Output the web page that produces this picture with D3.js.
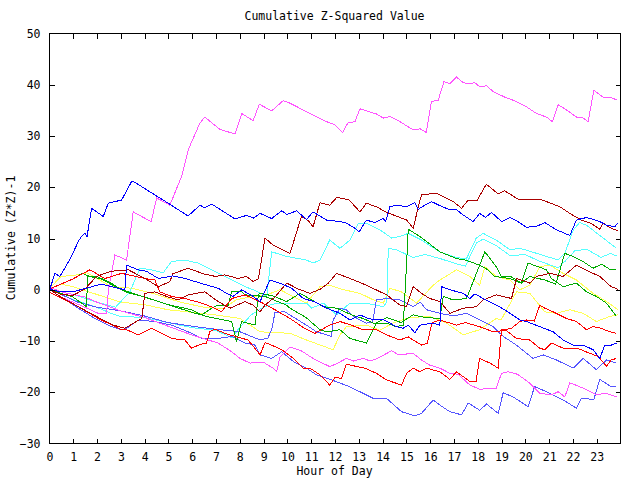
<!DOCTYPE html>
<html><head><meta charset="utf-8">
<script src="https://cdn.jsdelivr.net/npm/d3@7"></script>
<style>
body{margin:0;background:#fff;}
text{font-family:"DejaVu Sans Mono",monospace;font-size:11.5px;fill:#000;}
</style></head><body>
<svg id="c" width="640" height="480"></svg>
<script>
const title = "Cumulative Z-Squared Value";
const xLabel = "Hour of Day";
const yLabel = "Cumulative (Z*Z)-1";
const xTicks = d3.range(0, 24);
const yTicks = [-30, -20, -10, 0, 10, 20, 30, 40, 50];

// each series: [hour, cumulative value] vertices
const magentaA = [[0,0],[0.5,-1.5],[1,-2.5],[1.5,-3.5],[2.07,-4.7],[2.42,-4.7],[2.5,0],[2.77,6.7],[3.26,5.7],[3.54,15.1],[4.29,13.2],[4.53,17.8],[5.08,16.4],[5.57,22.0],[5.85,27.2],[6.34,32.4],[6.55,33.6],[7.18,31.2],[7.82,30.3],[8.10,34.3],[8.58,32.9],[8.84,36.1],[9.36,34.8],[9.84,36.8],[10.13,36.3],[10.97,34.3],[11.67,32.7],[12.02,32.1],[12.34,30.6],[12.57,32.5],[12.86,32.7],[13.07,35.2],[13.76,34.2],[14.05,33.4],[14.33,33.7],[14.75,32.7],[15.31,31.1],[15.6,31.3],[15.86,30.6],[16.07,36.6],[16.36,36.9],[16.6,40.5],[16.85,40.1],[17.13,41.4],[17.41,40.3],[17.62,40.1],[17.9,40.3],[18.1,39.5],[18.39,39.7],[18.66,38.6],[19.15,37.5],[19.5,36.9],[20.07,35.6],[20.49,34.3],[20.91,33.6],[21.16,32.7],[21.4,36.0],[21.75,35.0],[22.17,33.6],[22.4,33.6],[22.66,32.7],[22.9,38.8],[23.29,37.5],[23.57,37.5],[23.88,36.9]];
const blueA = [[0,-0.5],[0.25,3.1],[0.46,2.5],[0.9,6],[1.25,9.5],[1.37,10.3],[1.51,10.9],[1.6,10.3],[1.79,15.8],[2.28,14.2],[2.49,16.8],[3.05,17.4],[3.47,21.0],[3.6,20.9],[4.45,18.4],[5.01,16.8],[5.57,15.1],[5.85,14.3],[6.34,16.4],[6.55,15.9],[6.84,16.6],[7.39,15.0],[7.82,13.7],[8.29,14.4],[8.6,13.9],[8.87,14.8],[9.36,13.8],[9.78,15.3],[10.0,14.6],[10.41,15.3],[10.82,13.6],[11.1,15.1],[11.67,13.5],[12.23,13.2],[12.5,12.9],[12.86,11.9],[13.04,11.2],[13.34,13.5],[13.7,13.0],[14.05,13.8],[14.15,13.2],[14.33,16.1],[14.6,16.4],[15.03,16.1],[15.38,16.9],[15.52,15.6],[15.8,16.4],[16.08,17.1],[16.43,16.3],[16.85,15.5],[17.1,15.6],[17.41,14.5],[17.83,13.2],[18.1,14.8],[18.35,14.0],[18.6,15.0],[19.02,13.2],[19.37,14.0],[19.65,13.4],[20.07,12.1],[20.5,12.3],[20.84,13.0],[21.33,11.6],[21.89,10.5],[22.17,13.5],[22.59,14.0],[22.9,13.6],[23.15,13.2],[23.43,12.5],[23.78,12.2],[23.9,12.9]];
const darkRedA = [[0,0],[0.5,-1],[1,-1.2],[1.5,0],[2,2.5],[2.6,3.5],[3.33,3.8],[4.03,2.1],[4.6,0.5],[5.08,1.5],[5.2,3.0],[5.85,4.1],[6.5,3.0],[7.0,2.5],[7.39,2.8],[7.95,2.1],[8.3,2.5],[8.58,1.5],[8.8,2.0],[9.08,10.0],[9.42,8.6],[10.13,7.0],[10.61,14.2],[10.9,13.4],[11.1,12.2],[11.39,16.9],[11.8,16.4],[12.09,17.9],[12.6,17.5],[13.07,15.1],[13.34,16.8],[13.8,16.0],[14.19,15.0],[15.03,13.5],[15.31,11.9],[15.59,17.4],[15.66,18.4],[16.0,18.6],[16.36,18.6],[16.99,17.1],[17.34,15.8],[17.62,17.4],[18.0,17.4],[18.38,20.5],[18.88,18.6],[19.15,19.2],[19.71,17.6],[20.63,17.6],[21.19,16.6],[21.47,16.1],[21.89,14.8],[22.38,13.5],[22.8,12.8],[23.15,11.7],[23.29,12.9],[23.63,11.9],[23.92,11.4]];
const cyanA = [[0,0],[1,-1],[2,-2.5],[2.8,-3.5],[3.4,-0.5],[3.82,4.1],[4.3,3.8],[4.8,3.2],[5.0,4.5],[5.15,5.4],[5.71,5.7],[6.27,5.1],[6.84,3.8],[7.39,2.5],[8.24,0.5],[8.58,-0.1],[9.0,-1.0],[9.15,-1.4],[9.36,7.3],[9.99,6.4],[10.82,5.7],[11.1,5.1],[11.39,5.7],[11.8,9.6],[12.23,8.0],[12.65,9.6],[13.0,12.9],[13.34,12.9],[13.91,11.6],[14.4,10.0],[14.75,10.3],[15.1,10.9],[15.66,9.6],[16.08,8.3],[16.43,7.3],[17.13,6.2],[17.54,5.9],[17.96,10.0],[18.25,10.9],[18.8,9.6],[19.37,7.7],[19.79,8.0],[20.5,7.0],[21.4,5.7],[21.68,7.0],[22.03,11.5],[22.3,13.0],[22.59,12.5],[23.15,10.5],[23.85,8.0]];
const cyanB = [[0,0],[1,-2],[2,-3.5],[2.6,-4.7],[3,-5.3],[4,-5.5],[5,-6.5],[6,-7.5],[7,-8],[7.7,-9.5],[8.0,-7.5],[8.5,-5],[9.0,-3.5],[9.57,-2.7],[10.82,-2.7],[11.04,-3.7],[11.53,-2.7],[12.09,-5.0],[12.65,-2.7],[13.28,-2.7],[14.05,-3.4],[14.2,-2.5],[14.26,8.0],[14.6,7.7],[15.31,6.2],[15.8,6.8],[16.43,6.0],[17.1,5.0],[17.5,4.5],[17.96,9.0],[18.25,9.8],[18.8,8.5],[19.4,6.5],[20.0,6.8],[20.6,5.5],[21.4,4.2],[21.7,5.5],[22.1,7.5],[22.6,7.8],[23.2,6.2],[23.6,7.0],[23.85,6.5]];
const lightBlueA = [[0,0],[0.5,-1.5],[1.23,-3.7],[1.93,-5.7],[2.63,-7.3],[3.05,-7.9],[3.3,-7.5],[3.75,-6.0],[4.45,-6.3],[5.15,-7.0],[5.85,-8.3],[6.42,-9.6],[7.11,-9.6],[7.68,-9.2],[8.24,-10.5],[8.66,-10.9],[8.87,-12.8],[9.36,-13.5],[9.78,-12.2],[10.27,-14.1],[10.82,-15.4],[11.24,-16.7],[11.88,-17.7],[12.23,-18.3],[12.57,-18.9],[13.07,-20.0],[13.63,-21.3],[14.19,-21.3],[14.82,-23.9],[15.38,-24.7],[15.66,-24.2],[16.15,-21.6],[16.43,-22.6],[16.85,-23.9],[17.34,-24.5],[17.62,-22.2],[18.1,-23.6],[18.39,-22.4],[18.88,-24.2],[19.09,-20.2],[19.5,-21.0],[20.14,-22.9],[20.41,-19.0],[20.91,-20.0],[21.61,-21.6],[22.17,-23.2],[22.38,-21.3],[22.9,-21.5],[23.15,-17.6],[23.63,-19.0],[23.85,-19.0]];
const redA = [[0,-0.5],[0.11,-0.8],[1.23,-3.4],[2.07,-5.7],[3.05,-7.9],[3.26,-7.9],[3.75,-8.9],[4.31,-7.6],[4.73,-8.6],[5.15,-9.6],[5.71,-9.9],[5.99,-11.5],[6.34,-10.8],[6.62,-10.5],[6.76,-8.3],[6.97,-7.8],[7.39,-8.6],[7.82,-9.2],[8.37,-9.9],[8.87,-12.8],[9.08,-10.4],[9.3,-10.8],[9.78,-11.8],[10.27,-13.5],[10.69,-15.4],[10.97,-15.4],[11.39,-16.7],[11.8,-18.7],[12.02,-17.2],[12.29,-17.4],[12.5,-14.6],[12.86,-15.0],[13.28,-15.4],[13.76,-16.4],[14.19,-17.7],[14.82,-18.7],[15.03,-16.4],[15.31,-15.4],[15.59,-16.1],[15.87,-15.4],[16.43,-16.1],[16.85,-17.6],[17.13,-16.1],[17.69,-18.0],[17.95,-18.0],[18.1,-13.5],[18.53,-14.4],[18.88,-15.4],[19.02,-7.9],[19.15,-7.9],[19.44,-7.6],[19.79,-6.3],[20.07,-6.0],[20.4,-6.2],[20.63,-3.1],[20.84,-3.7],[21.19,-4.4],[21.75,-5.7],[22.17,-6.3],[22.59,-7.9],[22.87,-7.3],[23.2,-7.6],[23.57,-8.3],[23.85,-8.6]];
const redB = [[0,0],[0.5,1],[1,2],[1.72,3.8],[2.35,2.1],[3.05,3.1],[4.03,2.1],[4.45,1.8],[4.66,-0.5],[5.15,-1.4],[5.71,-1.8],[6.42,-2.7],[6.97,-3.7],[7.25,-4.4],[7.68,-1.8],[8.24,-1.1],[8.9,-2.5],[9.5,-4],[10.13,-5.7],[10.7,-7.5],[11.18,-8.6],[11.8,-7.0],[12.23,-6.3],[12.7,-7],[13.2,-7.9],[13.76,-7.9],[14.19,-8.9],[14.75,-9.9],[15.1,-9.3],[15.66,-10.9],[15.9,-10.5],[16.1,-6.5],[16.43,-6.0],[17.13,-7.0],[17.5,-6.5],[18.1,-7.3],[18.67,-8.3],[19.2,-8.0],[19.65,-9.6],[20.2,-9.9],[20.63,-11.5],[20.84,-11.8],[21.12,-10.5],[21.61,-11.5],[22.2,-11.5],[22.73,-12.5],[23.08,-13.1],[23.43,-15.0],[23.63,-13.8],[23.85,-13.5]];
const blueB = [[0,0],[0.5,-0.5],[1,-0.5],[1.8,0.5],[2.2,1.0],[2.8,0.3],[3.19,-0.1],[3.26,4.7],[3.75,3.8],[4.1,3.5],[4.6,2.1],[5.2,2.6],[5.71,2.1],[6.5,1.0],[7.11,0.2],[7.46,-0.8],[7.74,-1.4],[8.1,-0.1],[8.58,-1.4],[8.87,-2.4],[9.29,1.8],[9.8,1.0],[10.2,0.2],[10.69,-1.8],[11.2,-2.5],[11.67,-3.7],[12.23,-4.7],[12.65,-6.0],[13.07,-5.0],[13.42,-5.7],[13.76,-6.0],[14.05,-5.9],[14.6,-7.3],[14.89,-7.6],[15.1,-7.0],[15.38,-8.5],[15.59,-7.0],[16.15,-6.6],[16.43,-7.0],[16.5,0.5],[16.85,-0.1],[17.41,-0.8],[17.69,-1.8],[17.9,-0.9],[18.25,-1.8],[18.8,-3.1],[19.15,-4.0],[19.79,-6.0],[20.07,-6.3],[20.63,-7.3],[21.19,-8.3],[21.61,-9.9],[22.03,-10.9],[22.5,-11.0],[22.87,-11.8],[23.15,-13.5],[23.36,-10.9],[23.63,-10.9],[23.85,-10.5]];
const magentaB = [[0,0.5],[0.5,-0.5],[1,-1.0],[1.5,-1.5],[2,-2.5],[3,-4.2],[4,-5.5],[5,-7.2],[5.99,-8.9],[7.11,-10.5],[7.68,-12.2],[8.03,-13.5],[8.45,-14.4],[9.0,-14.2],[9.42,-15.4],[9.57,-16.1],[9.71,-13.2],[10.13,-11.3],[10.6,-12.0],[11.1,-13.5],[11.8,-15.1],[12.1,-14.5],[12.5,-13.5],[12.8,-14.0],[13.2,-13.5],[13.5,-14.0],[13.8,-13.5],[14.4,-12.0],[14.7,-12.8],[15.3,-12.5],[15.66,-13.8],[16.0,-14.8],[16.43,-15.4],[16.85,-16.4],[17.2,-16.6],[17.69,-18.7],[18.1,-19.5],[18.8,-19.3],[19.02,-16.4],[19.3,-16.1],[19.7,-16.6],[20.2,-18.3],[20.63,-20.3],[21.12,-20.6],[21.4,-20.0],[21.68,-21.0],[21.89,-18.3],[22.2,-18.8],[22.59,-19.6],[23.01,-20.6],[23.4,-20.3],[23.85,-21.0]];
const lightBlueB = [[0,0],[0.6,-1.2],[1.2,-2.5],[2,-3.5],[3,-4.2],[4,-5.2],[5,-6.5],[6,-7.2],[7,-7.8],[8.03,-8.3],[8.87,-9.9],[9.2,-9.5],[9.36,-7.9],[9.5,-4.5],[9.91,-4.4],[10.82,-7.0],[11.24,-8.3],[11.88,-9.2],[11.94,-6.0],[12.23,-3.7],[12.5,-4.0],[12.79,-5.3],[13.34,-6.6],[13.6,-6.4],[13.76,-2.1],[14.19,-1.8],[14.75,-2.1],[15.31,-3.4],[15.6,-2.5],[15.87,-4.0],[16.43,-4.7],[17.0,-5.2],[17.54,-4.7],[18.1,-6.0],[18.67,-7.3],[19.09,-9.2],[19.65,-10.9],[20.07,-12.5],[20.35,-13.5],[20.77,-12.8],[21.33,-13.8],[22.03,-15.4],[22.45,-13.5],[23.01,-15.7],[23.43,-13.8],[23.85,-14.4]];
const yellowA = [[0,0],[0.5,2.5],[1.2,2.8],[1.6,3.2],[2.0,2.2],[2.6,0.5],[3.5,0.2],[4.5,-1],[5.5,-2.5],[6.5,-3.5],[7.3,-3.8],[7.9,-2.0],[8.5,-1.5],[9.2,-1.0],[9.71,-0.1],[10.3,-1.5],[10.82,-2.7],[11.39,0.5],[11.8,0.8],[12.3,0.0],[13.07,-0.8],[13.6,-2.0],[14.05,-2.7],[14.33,0.2],[14.8,-0.5],[15.45,-2.7],[16.15,0.8],[16.43,1.8],[17.13,3.8],[17.69,2.5],[18.1,0.8],[18.32,4.4],[18.8,2.5],[19.37,1.8],[19.79,-0.1],[20.21,0.8],[20.63,4.4],[21.05,4.7],[21.61,3.1],[22.17,1.8],[22.87,-0.8],[23.43,-2.4],[23.92,-4.0]];
const yellowB = [[0,0],[0.5,1],[1,0.5],[2,-1],[3,-2.5],[4,-3],[5,-4],[6,-4.5],[7,-5],[8.03,-5.7],[8.87,-8.3],[10.13,-8.6],[10.82,-9.9],[11.94,-11.8],[12.23,-8.9],[12.5,-7.3],[13.34,-7.0],[13.9,-8],[14.5,-6.5],[15.2,-5.5],[16.0,-5.3],[16.71,-6.6],[17.41,-8.9],[18.1,-7.9],[18.8,-5.7],[19.0,-6.0],[19.65,-0.5],[20.21,-0.8],[20.84,-4.4],[21.33,-4.7],[21.89,-4.0],[22.45,-4.7],[23.01,-6.3],[23.57,-5.3],[23.92,-5.0]];
const greenA = [[0,0],[0.5,1],[1.0,2.0],[1.4,3.1],[1.7,2.5],[2.2,2.0],[3,0],[4,-1.5],[5,-3.0],[6,-4.5],[6.8,-5.5],[7.68,-6.3],[7.88,-10.2],[8.1,-6.3],[8.66,-7.0],[8.8,-1.0],[8.87,-0.8],[9.42,-1.3],[9.99,-2.4],[10.55,-0.8],[11.53,-3.4],[12.09,-3.7],[12.72,-5.0],[13.2,-5.7],[13.63,-6.6],[14.19,-6.6],[14.6,-7.3],[14.89,-7.0],[15.03,5],[15.1,11.7],[15.59,10.3],[16.15,8.3],[16.43,7.3],[17.13,6.0],[17.5,5.7],[18.1,4.7],[18.45,3.8],[18.73,2.5],[19.37,2.1],[19.85,1.2],[20.21,2.5],[20.84,1.8],[21.3,1.0],[21.68,7.0],[22.03,6.4],[22.45,5.4],[22.87,4.1],[23.22,4.9],[23.57,3.9],[23.85,3.9]];
const greenB = [[0,0],[0.5,-0.8],[1,-1.5],[1.58,-3.4],[1.62,2.5],[2.0,2.5],[2.5,1.5],[3.2,-0.5],[4.0,-1.5],[5.0,-3.0],[6.0,-4.0],[6.42,-5.0],[6.84,-3.7],[7.11,-3.1],[7.53,-3.1],[7.68,-0.5],[8.1,-0.5],[8.24,-1.1],[9.08,-1.4],[9.99,-3.1],[10.13,-3.7],[10.8,-5.5],[11.39,-7.9],[11.67,-8.3],[12.23,-7.9],[12.65,-9.6],[13.34,-10.5],[13.76,-6.6],[14.2,-5.5],[14.8,-6.5],[15.3,-5.0],[15.8,-5.5],[16.43,-5.7],[16.57,-1.4],[16.99,-2.1],[17.55,-1.8],[17.83,1.5],[18.32,7.3],[18.8,4.4],[19.01,2.5],[19.4,2.5],[19.85,1.2],[20.14,5.1],[20.91,3.8],[21.12,2.1],[21.61,0.5],[22.17,1.2],[22.59,-0.5],[23.01,-1.4],[23.43,-2.7],[23.85,-5.3]];
const darkRedB = [[0,0],[0.5,-1.5],[1.23,-3.4],[2.07,-5.5],[2.7,-7.0],[3.19,-7.6],[3.9,-5.7],[4.03,-0.8],[4.45,-0.5],[4.94,-1.4],[5.43,-2.1],[5.85,-1.1],[6.55,-0.5],[7.11,-2.4],[7.61,-3.7],[8.24,-2.4],[8.58,-3.1],[8.87,-4.4],[9.08,-3.1],[9.5,-1.5],[9.99,1.2],[10.5,0.0],[10.97,-0.8],[11.4,0.0],[11.74,1.2],[12.09,3.1],[12.65,2.1],[13.34,0.8],[14.19,-1.1],[14.75,-3.1],[15.03,-3.4],[15.31,0.5],[15.66,-0.8],[16.0,-1.8],[16.43,-2.4],[16.85,-4.7],[17.41,-3.7],[17.97,-3.4],[18.25,-2.1],[18.8,-1.1],[19.44,-1.8],[19.65,2.1],[20.21,1.2],[20.49,2.5],[21.05,3.1],[21.61,2.5],[22.17,4.7],[22.73,3.4],[23.15,2.5],[23.63,0.5],[23.92,0.0]];

const colors = {blue:"#0000ff", magenta:"#ff55ff", darkred:"#aa0000", red:"#ff0000", cyan:"#55ffff", yellow:"#ffff55", green:"#00aa00", lightblue:"#5555ff"};
const series = [
  {data: yellowB, color: colors.yellow},
  {data: yellowA, color: colors.yellow},
  {data: cyanB, color: colors.cyan},
  {data: cyanA, color: colors.cyan},
  {data: lightBlueB, color: colors.lightblue},
  {data: lightBlueA, color: colors.lightblue},
  {data: magentaB, color: colors.magenta},
  {data: magentaA, color: colors.magenta},
  {data: greenB, color: colors.green},
  {data: greenA, color: colors.green},
  {data: redB, color: colors.red},
  {data: redA, color: colors.red},
  {data: darkRedB, color: colors.darkred},
  {data: darkRedA, color: colors.darkred},
  {data: blueB, color: colors.blue},
  {data: blueA, color: colors.blue}
];

const svg = d3.select("#c");
const L = 49, R = 620, T = 33, B = 443;
const x = d3.scaleLinear().domain([0, 24]).range([L, R]);
const y = d3.scaleLinear().domain([-30, 50]).range([B, T]);

svg.append("clipPath").attr("id","pc").append("rect").attr("x",L).attr("y",T).attr("width",R-L).attr("height",B-T);
const g = svg.append("g").attr("clip-path","url(#pc)");
const line = d3.line().x(d => x(d[0])).y(d => y(d[1]));
series.forEach(s => {
  g.append("path").attr("d", line(s.data)).attr("fill","none").attr("stroke", s.color)
   .attr("stroke-width",1).attr("shape-rendering","crispEdges");
});

// frame
svg.append("rect").attr("x",L+0.5).attr("y",T+0.5).attr("width",R-L).attr("height",B-T)
  .attr("fill","none").attr("stroke","#000").attr("shape-rendering","crispEdges");

// axes with inward ticks
const axB = d3.axisBottom(x).tickValues(xTicks).tickSize(-5).tickPadding(9).tickFormat(d3.format("d"));
const gB = svg.append("g").attr("transform",`translate(0.5,${B+0.5})`).call(axB);
const axT = d3.axisTop(x).tickValues(xTicks.slice(1)).tickSize(-5).tickFormat("");
const gT = svg.append("g").attr("transform",`translate(0.5,${T+0.5})`).call(axT);
const axL = d3.axisLeft(y).tickValues(yTicks).tickSize(-5).tickPadding(9);
const gL = svg.append("g").attr("transform",`translate(${L+0.5},0.5)`).call(axL);
const axR = d3.axisRight(y).tickValues(yTicks.slice(1,-1)).tickSize(-5).tickFormat("");
const gR = svg.append("g").attr("transform",`translate(${R+0.5},0.5)`).call(axR);
gB.selectAll(".tick").filter(d => d === 0).select("line").remove();
gL.selectAll(".tick").filter(d => d === -30 || d === 50).select("line").remove();
[gB,gT,gL,gR].forEach(a => {
  a.select(".domain").remove();
  a.selectAll("line").attr("stroke","#000").attr("shape-rendering","crispEdges");
  a.selectAll("text").attr("font-family","DejaVu Sans Mono").attr("font-size","11.5px").attr("fill","#000");
});

svg.append("text").attr("x",(L+R)/2).attr("y",20).attr("text-anchor","middle").text(title);
svg.append("text").attr("x",(L+R)/2).attr("y",475).attr("text-anchor","middle").text(xLabel);
svg.append("text").attr("transform",`translate(15,${(T+B)/2}) rotate(-90)`).attr("text-anchor","middle").text(yLabel);
</script></body></html>
